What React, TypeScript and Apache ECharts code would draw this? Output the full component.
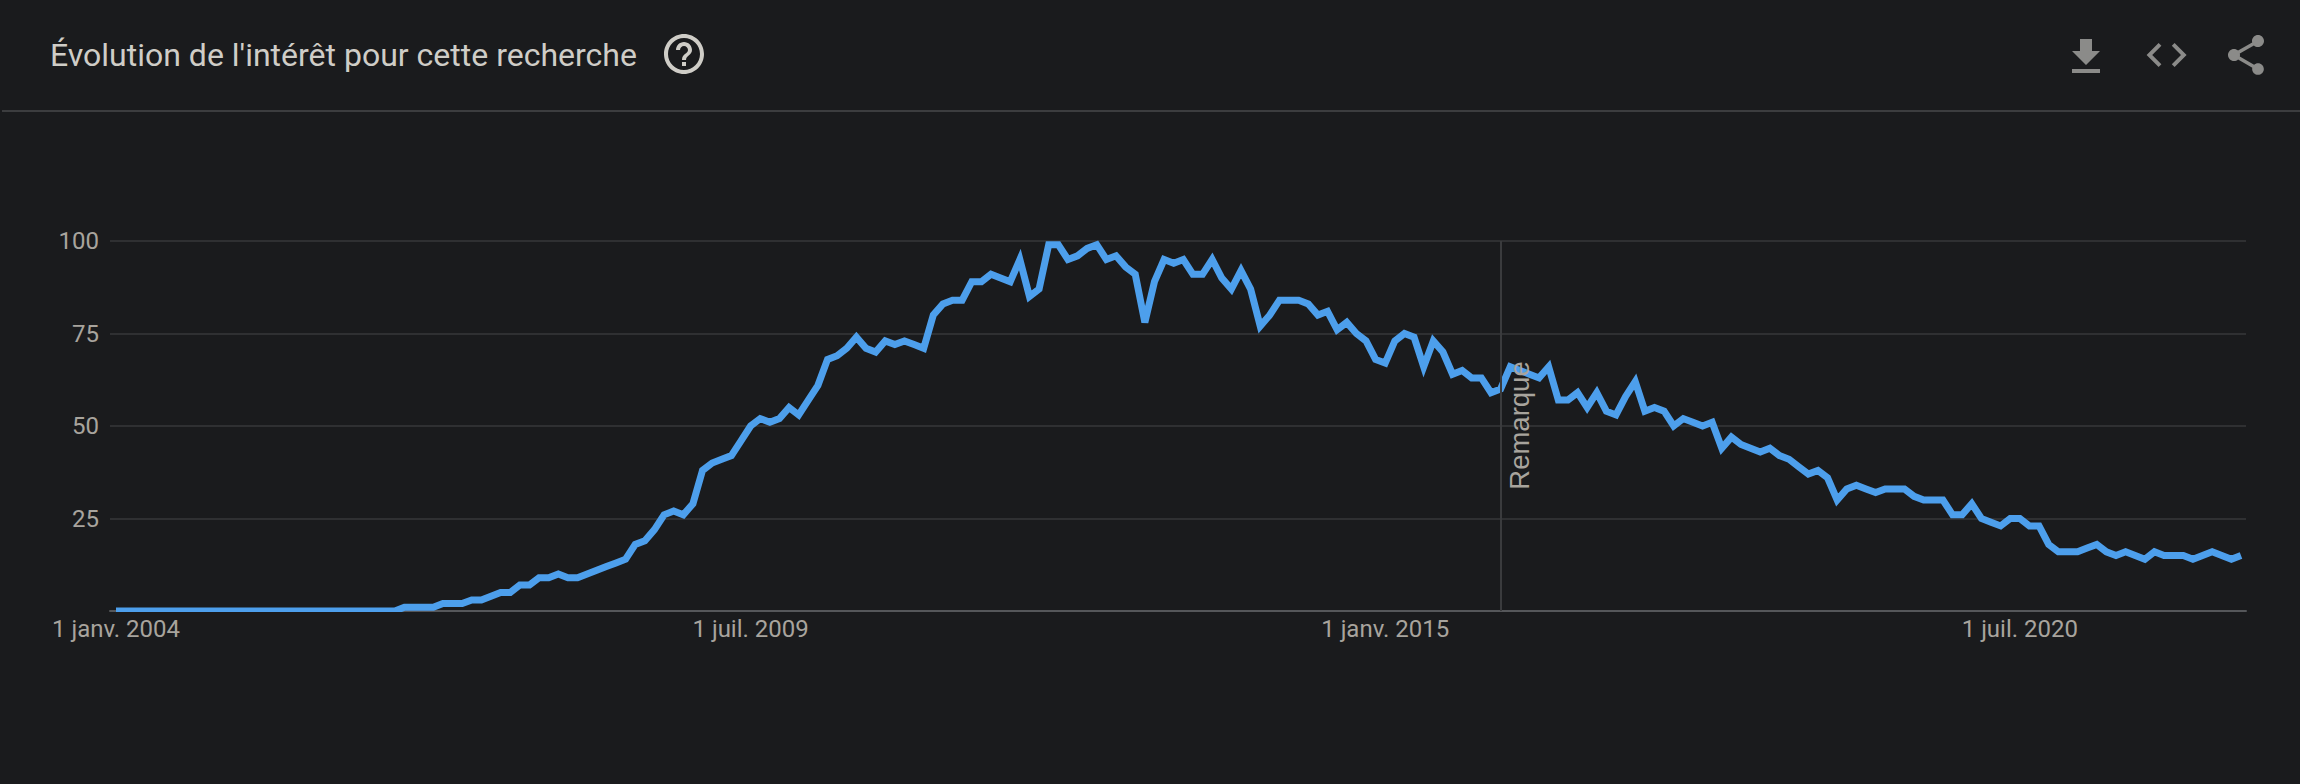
import React, { useEffect, useRef } from "react";
import * as echarts from "echarts";

const titleText = "Évolution de l'intérêt pour cette recherche";
const noteText = "Remarque";
const noteMonth = 144.05;
const tickMonths = [0, 66, 132, 198];
const tickLabels = ["1 janv. 2004", "1 juil. 2009", "1 janv. 2015", "1 juil. 2020"];
const yTicks = [25, 50, 75, 100];
const interest = [
  0, 0, 0, 0, 0, 0, 0, 0, 0, 0, 0, 0, 0, 0, 0, 0, 0, 0, 0, 0, 0, 0, 0, 0, 0, 0, 0, 0, 0, 0,
  1, 1, 1, 1, 2, 2, 2, 3, 3, 4, 5, 5, 7, 7, 9, 9, 10, 9, 9, 10, 11,
  12, 13, 14, 18, 19, 22, 26, 27, 26, 29, 38, 40, 41, 42, 46, 50, 52, 51, 52, 55, 53, 57, 61,
  68, 69, 71, 74, 71, 70, 73, 72, 73, 72, 71, 80, 83, 84, 84, 89, 89, 91, 90, 89, 95, 85, 87,
  99, 99, 95, 96, 98, 99, 95, 96, 93, 91, 78, 89, 95, 94, 95, 91, 91, 95,
  90, 87, 92, 87, 77, 80, 84, 84, 84, 83, 80, 81, 76, 78, 75, 73, 68, 67, 73, 75, 74, 66, 73, 70,
  64, 65, 63, 63, 59, 60, 66, 65, 64, 63, 66, 57, 57, 59, 55, 59, 54, 53, 58, 62, 54, 55, 54, 50,
  52, 51, 50, 51, 44, 47, 45, 44, 43, 44, 42, 41, 39, 37, 38, 36, 30, 33, 34, 33, 32, 33, 33, 33,
  31, 30, 30, 30, 26, 26, 29, 25, 24, 23, 25, 25, 23, 23, 18, 16, 16, 16, 17, 18, 16, 15, 16, 15,
  14, 16, 15, 15, 15, 14, 15, 16, 15, 14, 15,
];

echarts.graphic.registerShape("dlIcon", echarts.graphic.extendPath("M19 9h-4V3H9v6H5l7 7 7-7zM5 18v2h14v-2H5z", {}));
echarts.graphic.registerShape("codeIcon", echarts.graphic.extendPath("M9.4 16.6L4.8 12l4.6-4.6L8 6l-6 6 6 6 1.4-1.4zm5.2 0l4.6-4.6-4.6-4.6L16 6l6 6-6 6-1.4-1.4z", {}));
echarts.graphic.registerShape("shareIcon", echarts.graphic.extendPath("M18 16.08c-.76 0-1.44.3-1.96.77L8.91 12.7c.05-.23.09-.46.09-.7s-.04-.47-.09-.7l7.05-4.11c.54.5 1.25.81 2.04.81 1.66 0 3-1.34 3-3s-1.34-3-3-3-3 1.34-3 3c0 .24.04.47.09.7L8.04 9.81C7.5 9.31 6.79 9 6 9c-1.66 0-3 1.34-3 3s1.34 3 3 3c.79 0 1.5-.31 2.04-.81l7.12 4.16c-.05.21-.08.43-.08.65 0 1.61 1.31 2.92 2.92 2.92 1.61 0 2.92-1.31 2.92-2.92s-1.31-2.92-2.92-2.92z", {}));
echarts.graphic.registerShape("helpIcon", echarts.graphic.extendPath("M11 18h2v-2h-2v2zm1-16C6.48 2 2 6.48 2 12s4.48 10 10 10 10-4.48 10-10S17.52 2 12 2zm0 18c-4.41 0-8-3.59-8-8s3.59-8 8-8 8 3.59 8 8-3.59 8-8 8zm0-14c-2.21 0-4 1.79-4 4h2c0-1.1.9-2 2-2s2 .9 2 2c0 2-3 1.75-3 5h2c0-2.25 3-2.5 3-5 0-2.21-1.79-4-4-4z", {}));

export default function App() {
  const ref = useRef<HTMLDivElement>(null);
  useEffect(() => {
    document.body.style.margin = "0";
    const chart = echarts.init(ref.current!, null, { renderer: "svg" });
    const bg = "#1a1b1d";
    const labelColor = "#a8a49d";
    const iconColor = "#8b8b89";
    chart.setOption({
      animation: false,
      backgroundColor: bg,
      grid: { left: 110, right: 54, top: 241, height: 370 },
      xAxis: {
        type: "value",
        min: -0.624,
        max: 221.52,
        splitLine: { show: false },
        axisTick: { show: false },
        axisLine: { show: true, onZero: false, lineStyle: { color: "#55575a", width: 2 } },
        axisLabel: {
          customValues: tickMonths,
          formatter: (v: number) => tickLabels[tickMonths.indexOf(v)] ?? "",
          color: labelColor,
          fontFamily: "Roboto",
          fontSize: 24,
          margin: 6,
          hideOverlap: false,
        },
      },
      yAxis: {
        type: "value",
        min: 0,
        max: 100,
        interval: 25,
        axisLine: { show: false },
        axisTick: { show: false },
        splitLine: { lineStyle: { color: "#2f3032", width: 2 } },
        axisLabel: {
          customValues: yTicks,
          color: labelColor,
          fontFamily: "Roboto",
          fontSize: 24,
          margin: 11,
        },
      },
      series: [
        {
          type: "line",
          data: interest.map((v, i) => [i, v]),
          showSymbol: false,
          symbol: "none",
          clip: false,
          lineStyle: { color: "#4d9fec", width: 7, join: "miter", cap: "butt" },
          markLine: {
            silent: true,
            symbol: "none",
            label: { show: false },
            lineStyle: { color: "#3a3b3d", width: 2, type: "solid" },
            data: [{ xAxis: noteMonth }],
          },
        },
      ],
      graphic: [
        { type: "line", shape: { x1: 2, y1: 111, x2: 2300, y2: 111 }, style: { stroke: "#3c3d3f", lineWidth: 2 } },
        { type: "text", x: 50, y: 55, style: { text: titleText, fill: "#cfcdc7", fontFamily: "Roboto", fontWeight: 400, fontSize: 32, verticalAlign: "middle" } },
        { type: "helpIcon", x: 660, y: 30, scaleX: 2, scaleY: 2, style: { fill: "#cfcdc7" } },
        { type: "dlIcon", x: 2062, y: 33, scaleX: 2, scaleY: 2, style: { fill: iconColor } },
        { type: "codeIcon", x: 2142.6, y: 31, scaleX: 2, scaleY: 2, style: { fill: iconColor } },
        { type: "shareIcon", x: 2222, y: 31, scaleX: 2, scaleY: 2, style: { fill: iconColor } },
        { type: "rect", z: 9, shape: { x: 110, y: 612, width: 2136, height: 4 }, style: { fill: bg } },
        {
          type: "text",
          x: 1505,
          y: 425.5,
          rotation: Math.PI / 2,
          z: 10,
          style: { text: noteText, fill: "#a8a49d", fontFamily: "Liberation Sans", fontSize: 27.5, align: "center", verticalAlign: "alphabetic" },
        },
      ],
    });
    return () => chart.dispose();
  }, []);
  return <div ref={ref} style={{ width: 2300, height: 784 }} />;
}
